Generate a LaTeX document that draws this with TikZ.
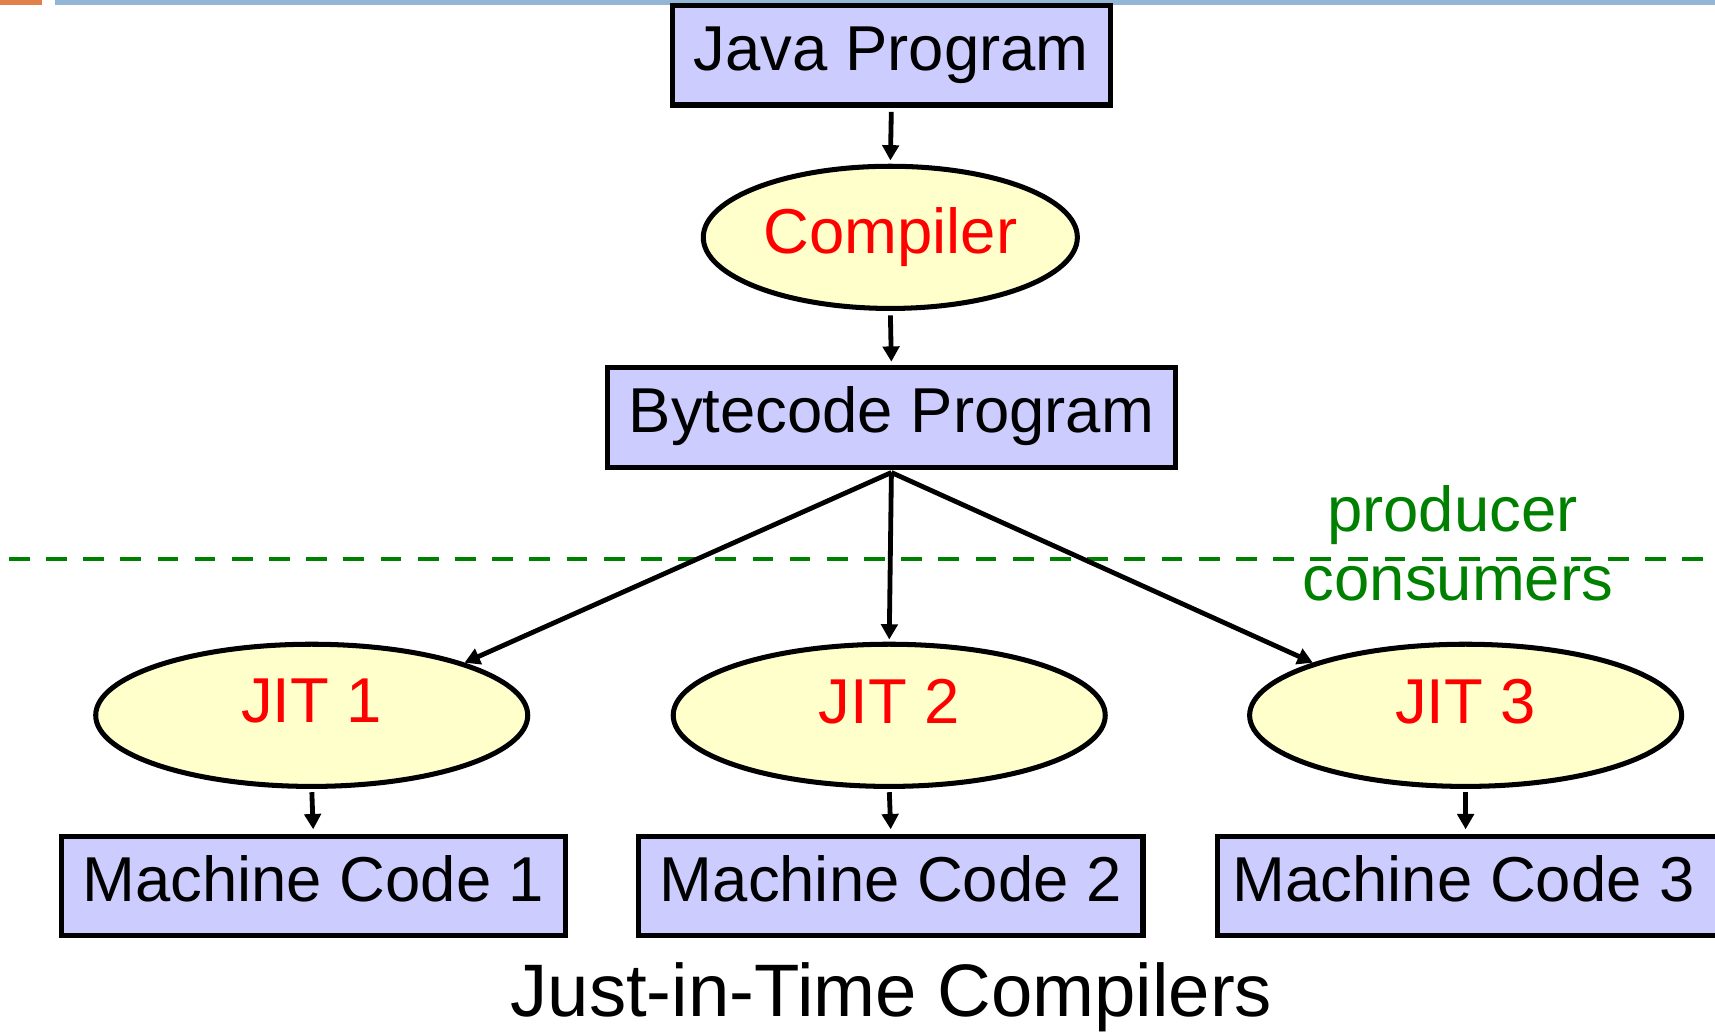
\documentclass[tikz,border=0pt]{standalone}
\usepackage{fontspec}
\setmainfont{Liberation Sans}
\usetikzlibrary{shapes.geometric,arrows.meta}
\definecolor{boxfill}{HTML}{CCCCFF}
\definecolor{ellfill}{HTML}{FFFFCC}
\definecolor{dgreen}{HTML}{008000}
\definecolor{barorange}{HTML}{E0804A}
\definecolor{barblue}{HTML}{94B6D6}
\tikzset{
  codebox/.style={draw=black, fill=boxfill, line width=4.6pt, rectangle, inner sep=0pt, minimum height=91pt, font=\fontsize{58}{58}\selectfont, text height=42pt, text depth=14pt},
  compell/.style={draw=black, fill=ellfill, line width=4.6pt, ellipse, inner sep=0pt, minimum height=130pt, text=red, font=\fontsize{58}{58}\selectfont},
  arr/.style={line width=4.4pt, -{Triangle[length=14pt,width=15pt]}},
  lbl/.style={text=dgreen, font=\fontsize{58}{58}\selectfont, inner sep=0pt},
}
\begin{document}
\begin{tikzpicture}[x=1pt,y=-1pt]
\useasboundingbox (0,0) rectangle (1568,943);
% top bars
\fill[barorange] (0,0) rectangle (38,4.6);
\fill[barblue] (50,0) rectangle (1568,4.6);
% nodes
\node[codebox, minimum width=400pt] (java) at (815,50.5) {Java Program};
\node[compell, minimum width=342pt] (compiler) at (814,217) {Compiler};
\node[codebox, minimum width=520pt] (bytecode) at (815,381.5) {Bytecode Program};
\node[compell, minimum width=395pt, text depth=26pt] (jit1) at (285,654) {JIT 1};
\node[compell, minimum width=395pt, text depth=26pt] (jit2) at (813,654) {JIT 2};
\node[compell, minimum width=395pt, text depth=26pt] (jit3) at (1340,654) {JIT 3};
\node[codebox, minimum width=461pt] (mc1) at (286.5,810) {Machine Code 1};
\node[codebox, minimum width=461pt] (mc2) at (814.5,810) {Machine Code 2};
\node[codebox, minimum width=464pt, anchor=west] (mc3) at (1111,810) {\hspace*{-14pt}Machine Code 3};
\node[font=\fontsize{68}{68}\selectfont, inner sep=0pt] (title) at (815,912) {Just-in-Time Compilers};
% dashed separator
\coordinate (dl) at (8,511);
\coordinate (dr) at (1568,511);
\draw[dgreen, line width=4.4pt, dash pattern=on 19pt off 15pt] (dl) -- (dr);
\node[lbl] (producer) at (1328,471) {producer};
\node[lbl] (consumers) at (1333,534) {consumers};
% connectors
\coordinate (fan) at (815,432);
\draw[arr, shorten <=4pt, shorten >=3pt] (java.south) -- (compiler.north);
\draw[arr, shorten <=4pt, shorten >=3pt] (compiler.south) -- (bytecode.north);
\draw[arr] (fan) -- (jit1.19);
\draw[arr, shorten >=2pt] (fan) -- (jit2.north);
\draw[arr] (fan) -- (jit3.161);
\draw[arr, shorten <=3pt, shorten >=4pt] (jit1.south) -- (mc1.north);
\draw[arr, shorten <=3pt, shorten >=4pt] (jit2.south) -- (mc2.north);
\draw[arr, shorten <=3pt, shorten >=4pt] (jit3.south) -- (mc3.north -| jit3.south);
\end{tikzpicture}
\end{document}
